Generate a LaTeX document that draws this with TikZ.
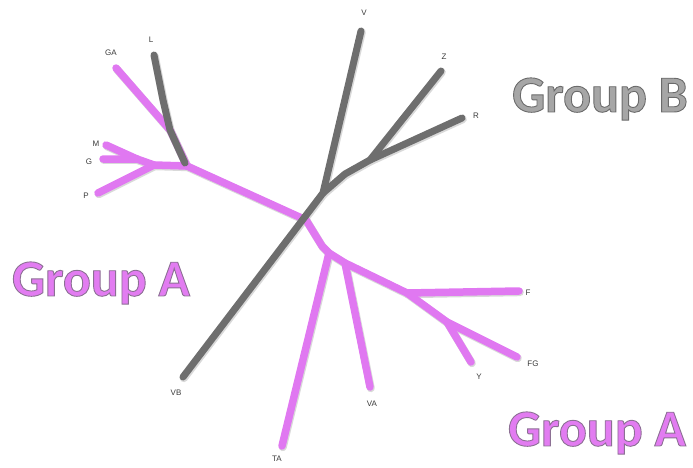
\documentclass[tikz,border=0pt]{standalone}
\usepackage{fontspec}
\setmainfont{Liberation Sans}
\newfontfamily\groupfont{Carlito}
\definecolor{pinkline}{HTML}{E078F1}
\definecolor{grayline}{HTML}{6E6E6E}
\definecolor{labelcol}{HTML}{3A3A3A}
\definecolor{groupApink}{HTML}{E27CF1}
\definecolor{groupBgray}{HTML}{A6A6A6}
% outlined text via PDF text render mode 2 (fill + stroke); args: stroke rgb, text
\newcommand\outlinedtext[2]{\special{pdf:literal direct 2 Tr 0.9 w #1 RG}#2\special{pdf:literal direct 0 Tr}}
\begin{document}
\begin{tikzpicture}[x=1pt,y=-1pt,
  pinkbr/.style={draw=pinkline,line width=7.5pt,line cap=round,line join=round},
  graybr/.style={draw=grayline,line width=7pt,line cap=round,line join=round},
  shadowbr/.style={draw=black!15,line width=8pt,line cap=round,line join=round,transform canvas={shift={(0.8pt,-1.2pt)}}},
  leaflabel/.style={font=\fontsize{8}{9}\selectfont,text=labelcol,inner sep=0pt},
  grouplabel/.style={font=\groupfont\bfseries\fontsize{52}{52}\selectfont,inner sep=0pt}
]
\useasboundingbox (0,0) rectangle (693,468);
% junction and leaf coordinates
\coordinate (GAend) at (116,68);
\coordinate (Lbr) at (170,130);
\coordinate (J1) at (187,166);
\coordinate (J2) at (154,165);
\coordinate (J3) at (137,159);
\coordinate (Gend) at (103,159);
\coordinate (Mend) at (106,145);
\coordinate (Pend) at (98,193);
\coordinate (C) at (306,220);
\coordinate (Cb) at (322,246);
\coordinate (K1) at (329,253);
\coordinate (K2) at (345,263);
\coordinate (K3) at (407,293);
\coordinate (K4) at (447,322);
\coordinate (TAend) at (282,446);
\coordinate (VAend) at (370,387);
\coordinate (Fend) at (519,291);
\coordinate (Yend) at (471,362);
\coordinate (FGend) at (517,357);
\coordinate (VBend) at (183,377);
\coordinate (G1) at (323,193);
\coordinate (Vend) at (361,31);
\coordinate (G2a) at (345,174);
\coordinate (G2) at (370,160);
\coordinate (Zend) at (441,71);
\coordinate (Rend) at (462,118);
\coordinate (Lend) at (154,55);
\coordinate (Lmid) at (163,100);
\coordinate (Lbot) at (185,163);

% shadows
\foreach \a/\b in {GAend/Lbr,Lbr/J1,J1/J2,J2/J3,J3/Gend,J3/Mend,J2/Pend,J1/C,C/Cb,Cb/K1,K1/TAend,K1/K2,K2/VAend,K2/K3,K3/Fend,K3/K4,K4/Yend,K4/FGend,VBend/G1,G1/Vend,G1/G2a,G2a/G2,G2/Zend,G2/Rend,Lend/Lmid,Lmid/Lbr,Lbr/Lbot}
  \draw[shadowbr] (\a) -- (\b);

% pink branches
\draw[pinkbr] (GAend) -- (Lbr) -- (J1);
\draw[pinkbr] (J1) -- (J2) -- (J3) -- (Gend);
\draw[pinkbr] (J3) -- (Mend);
\draw[pinkbr] (J2) -- (Pend);
\draw[pinkbr] (J1) -- (C) -- (Cb) -- (K1) -- (K2) -- (K3) -- (K4) -- (FGend);
\draw[pinkbr] (K1) -- (TAend);
\draw[pinkbr] (K2) -- (VAend);
\draw[pinkbr] (K3) -- (Fend);
\draw[pinkbr] (K4) -- (Yend);

% gray branches
\draw[graybr] (VBend) -- (G1) -- (Vend);
\draw[graybr] (G1) -- (G2a) -- (G2) -- (Zend);
\draw[graybr] (G2) -- (Rend);
\draw[graybr] (Lend) -- (Lmid) -- (Lbr) -- (Lbot);

% leaf labels
\node[leaflabel] (lGA) at (111,53) {GA};
\node[leaflabel] (lL) at (151,40) {L};
\node[leaflabel] (lM) at (96,144) {M};
\node[leaflabel] (lG) at (89,162) {G};
\node[leaflabel] (lP) at (86,196) {P};
\node[leaflabel] (lV) at (364,13) {V};
\node[leaflabel] (lZ) at (444,57) {Z};
\node[leaflabel] (lR) at (476,116) {R};
\node[leaflabel] (lF) at (528,293) {F};
\node[leaflabel] (lFG) at (533,364) {FG};
\node[leaflabel] (lY) at (479,377) {Y};
\node[leaflabel] (lVA) at (372,404) {VA};
\node[leaflabel] (lTA) at (277,459) {TA};
\node[leaflabel] (lVB) at (176,393) {VB};

% group labels
\node[grouplabel,text=groupApink] (grpA1) at (101,283) {\outlinedtext{0.55 0.44 0.58}{Group A}};
\node[grouplabel,text=groupApink] (grpA2) at (597,433) {\outlinedtext{0.55 0.44 0.58}{Group A}};
\node[grouplabel,text=groupBgray] (grpB) at (600,99) {\outlinedtext{0.42 0.42 0.42}{Group B}};
\end{tikzpicture}
\end{document}
